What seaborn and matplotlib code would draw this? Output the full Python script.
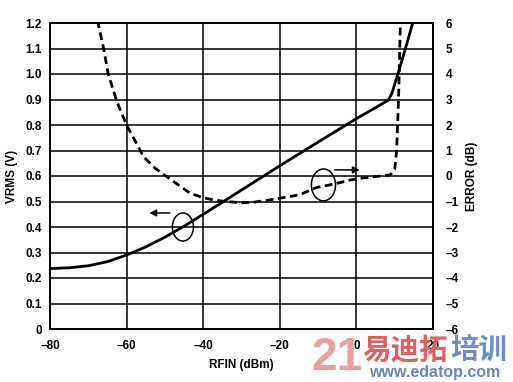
import matplotlib
matplotlib.use("Agg")
import matplotlib.pyplot as plt
from matplotlib.patches import Ellipse
import seaborn as sns
import pandas as pd

# ---- data ----
vrms_x = [-80, -75, -70, -65, -60, -55, -50, -45, -40, -35, -30, -20, -10, 0, 5, 8.3, 9.3, 10.0, 10.9, 12.8, 14.9]
vrms_y = [0.237, 0.240, 0.248, 0.264, 0.290, 0.322, 0.360, 0.403, 0.450, 0.497, 0.545, 0.640, 0.733, 0.825, 0.868, 0.897, 0.925, 0.960, 1.003, 1.100, 1.210]

err_x = [-67.6, -66.0, -64.8, -62.5, -60.0, -57.5, -55.6, -52.5, -49.5, -46.0, -43.4, -40.0, -37.0, -34.0,
         -30.0, -27.0, -24.0, -20.0, -16.0, -13.9, -12.0, -10.4, -7.0, -4.0, -1.7, 2.0, 5.0, 8.8, 10.0, 10.5, 11.0, 11.5]
err_y = [6.1, 5.0, 4.0, 2.9, 2.0, 1.3, 0.76, 0.3, -0.03, -0.4, -0.68, -0.85, -0.95, -1.0,
         -1.05, -1.03, -0.97, -0.87, -0.77, -0.68, -0.55, -0.45, -0.35, -0.25, -0.16, -0.07, -0.02, 0.04, 0.25, 1.0, 3.0, 6.1]

x_ticks = [-80, -60, -40, -20, 0, 20]
v_ticks = [0, 0.1, 0.2, 0.3, 0.4, 0.5, 0.6, 0.7, 0.8, 0.9, 1.0, 1.1, 1.2]
v_labels = ["0", "0.1", "0.2", "0.3", "0.4", "0.5", "0.6", "0.7", "0.8", "0.9", "1.0", "1.1", "1.2"]
e_ticks = [-6, -5, -4, -3, -2, -1, 0, 1, 2, 3, 4, 5, 6]

sns.set_theme(style="white")
plt.rcParams['font.family'] = ['Liberation Sans', 'DejaVu Sans']
plt.rcParams['font.weight'] = 'bold'

fig = plt.figure(figsize=(5.13, 3.82), dpi=100)
ax = fig.add_axes([50/513, 1-329/382, (433-50)/513, (329-23)/382])
ax2 = ax.twinx()

df_v = pd.DataFrame({"x": vrms_x, "y": vrms_y})
df_e = pd.DataFrame({"x": err_x, "y": err_y})

sns.lineplot(data=df_v, x="x", y="y", ax=ax, color="black", lw=2.0, sort=False, estimator=None)
sns.lineplot(data=df_e, x="x", y="y", ax=ax2, color="black", lw=2.0, sort=False, estimator=None,
             dashes=False)
ax2.lines[0].set_dashes((2.8, 1.6))

ax.set_xlim(-80, 20)
ax.set_ylim(0, 1.2)
ax2.set_ylim(-6, 6)
ax.set_xticks(x_ticks)
ax.set_xticklabels([f"{t}".replace("-", "\u2013") for t in x_ticks])
ax.set_yticks(v_ticks)
ax.set_yticklabels(v_labels)
ax2.set_yticks(e_ticks)
ax2.set_yticklabels([f"{t}".replace("-", "\u2013") for t in e_ticks])

ax.grid(True, color="black", lw=1.1)
for a in (ax, ax2):
    for s in a.spines.values():
        s.set_color("black")
        s.set_linewidth(1.3)
ax.tick_params(axis="both", length=0, labelsize=8.5, colors="black")
ax.tick_params(axis="y", pad=6)
ax.tick_params(axis="x", pad=8)
ax2.tick_params(axis="y", length=0, labelsize=8.5, colors="black", pad=9)
for lab in ax.get_xticklabels() + ax.get_yticklabels() + ax2.get_yticklabels():
    lab.set_fontweight("bold")

ax.set_xlabel("RFIN (dBm)", fontsize=8.5, fontweight="bold", color="black", labelpad=5)
ax.set_ylabel("VRMS (V)", fontsize=8.5, fontweight="bold", color="black", labelpad=5)
ax2.set_ylabel("ERROR (dB)", fontsize=8.5, fontweight="bold", color="black", labelpad=5)

# annotations: ellipses with arrows
ax.add_patch(Ellipse((-45.3, 0.40), 5.5, 0.11, fill=False, ec="black", lw=1.1, zorder=5))
ax.annotate("", xy=(-54.8, 0.455), xytext=(-48.0, 0.455),
            arrowprops=dict(arrowstyle="-|>", color="black", lw=1.1, mutation_scale=10))
ax.add_patch(Ellipse((-8.6, 0.565), 6.3, 0.125, fill=False, ec="black", lw=1.1, zorder=5))
ax.annotate("", xy=(1.6, 0.624), xytext=(-6.4, 0.624),
            arrowprops=dict(arrowstyle="-|>", color="black", lw=1.1, mutation_scale=10))

# watermark
fig.text(311/513, 1-380/382, "21", fontsize=33, fontweight="bold", color="#eaa0a0",
         ha="left", va="bottom", family=["Liberation Sans", "DejaVu Sans"])
fig.text(362/513, 1-364/382, "易迪拓", fontsize=20.5, fontweight="bold", color="#e06060",
         ha="left", va="bottom", family=["Noto Sans CJK SC", "DejaVu Sans"])
fig.text(450/513, 1-364/382, "培训", fontsize=20.5, fontweight="bold", color="#6f8cc8",
         ha="left", va="bottom", family=["Noto Sans CJK SC", "DejaVu Sans"])
fig.text(369/513, 1-380/382, "www.edatop.com", fontsize=11.5, fontweight="bold", color="#6a84bd",
         ha="left", va="bottom", family=["Liberation Sans", "DejaVu Sans"])

fig.savefig("out.png", dpi=100)
